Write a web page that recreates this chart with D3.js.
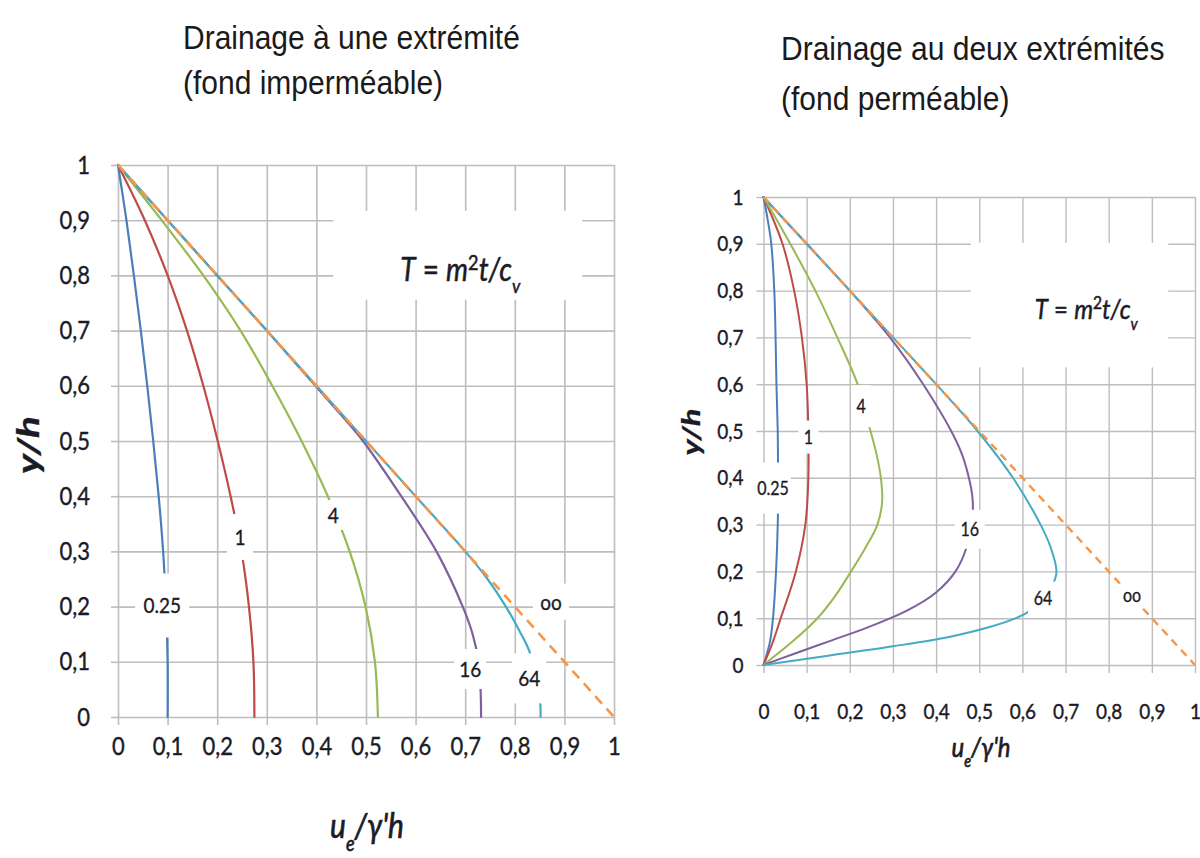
<!DOCTYPE html>
<html>
<head>
<meta charset="utf-8">
<script src="https://cdn.jsdelivr.net/npm/d3@7"></script>
<style>
  body { margin: 0; background: #fff; }
  svg { display: block; }
</style>
</head>
<body>
<svg id="chart" width="1200" height="858"></svg>
<script>
// ---------- data ----------
const ticks = [0, 0.1, 0.2, 0.3, 0.4, 0.5, 0.6, 0.7, 0.8, 0.9, 1];
const tickLabels = ["0", "0,1", "0,2", "0,3", "0,4", "0,5", "0,6", "0,7", "0,8", "0,9", "1"];
const timeFactors = ["0.25", "1", "4", "16", "64", "oo"];

// Drainage à une extrémité (fond imperméable): [u/γ'h, y/h]
const oneEnd_T025 = [[0,1],[0.017,0.9],[0.032,0.8],[0.046,0.7],[0.059,0.6],[0.071,0.5],[0.082,0.4],[0.091,0.3],[0.097,0.2],[0.1,0.1],[0.1,0]];
const oneEnd_T1   = [[0,1],[0.054,0.9],[0.1,0.8],[0.139,0.7],[0.172,0.6],[0.201,0.5],[0.227,0.4],[0.249,0.3],[0.264,0.2],[0.273,0.1],[0.275,0]];
const oneEnd_T4   = [[0,1],[0.088,0.9],[0.172,0.8],[0.247,0.7],[0.311,0.6],[0.37,0.5],[0.423,0.4],[0.467,0.3],[0.499,0.2],[0.518,0.1],[0.524,0]];
const oneEnd_T16  = [[0,1],[0.1,0.9],[0.2,0.8],[0.3,0.7],[0.398,0.6],[0.447,0.55],[0.494,0.5],[0.571,0.4],[0.642,0.3],[0.695,0.2],[0.715,0.15],[0.727,0.1],[0.731,0.05],[0.732,0]];
const oneEnd_T64  = [[0,1],[0.1,0.9],[0.2,0.8],[0.3,0.7],[0.4,0.6],[0.5,0.5],[0.6,0.4],[0.7,0.3],[0.745,0.25],[0.782,0.2],[0.81,0.155],[0.829,0.12],[0.845,0.07],[0.851,0.03],[0.852,0]];
const oneEnd_Tinf = [[0,1],[1,0]];
const oneEndLabelAt = [[0.089,0.202],[0.246,0.326],[0.434,0.366],[0.71,0.087],[0.829,0.07],[0.873,0.209]];

// Drainage aux deux extrémités (fond perméable): [u/γ'h, y/h]
const twoEnd_T025 = [[0,1],[0.01,0.95],[0.018,0.9],[0.025,0.8],[0.028,0.7],[0.03,0.6],[0.033,0.5],[0.034,0.4],[0.033,0.3],[0.029,0.2],[0.022,0.1],[0.015,0.05],[0,0]];
const twoEnd_T1   = [[0,1],[0.044,0.9],[0.071,0.8],[0.089,0.7],[0.1,0.6],[0.104,0.5],[0.104,0.4],[0.097,0.3],[0.075,0.2],[0.04,0.1],[0.022,0.05],[0,0]];
const twoEnd_T4   = [[0,1],[0.062,0.9],[0.12,0.8],[0.171,0.7],[0.218,0.6],[0.245,0.51],[0.262,0.45],[0.272,0.4],[0.275,0.35],[0.264,0.3],[0.236,0.25],[0.203,0.2],[0.168,0.15],[0.125,0.1],[0.067,0.05],[0,0]];
const twoEnd_T16  = [[0,1],[0.1,0.9],[0.2,0.8],[0.293,0.7],[0.37,0.6],[0.435,0.5],[0.46,0.45],[0.476,0.4],[0.484,0.36],[0.485,0.33],[0.478,0.29],[0.47,0.25],[0.445,0.2],[0.4,0.155],[0.33,0.115],[0.24,0.08],[0.15,0.05],[0.065,0.022],[0,0]];
const twoEnd_T64  = [[0,1],[0.1,0.9],[0.2,0.8],[0.3,0.7],[0.4,0.6],[0.496,0.5],[0.578,0.4],[0.642,0.3],[0.666,0.25],[0.679,0.2],[0.672,0.175],[0.65,0.14],[0.625,0.12],[0.585,0.1],[0.52,0.08],[0.43,0.06],[0.3,0.04],[0.15,0.02],[0,0]];
const twoEnd_Tinf = [[0,1],[1,0]];
const twoEndLabelAt = [[0.022,0.378],[0.104,0.487],[0.226,0.553],[0.478,0.29],[0.648,0.143],[0.854,0.148]];

// ---------- styles & layout ----------
const seriesColors = ["#4a7ebb", "#be4b48", "#98b954", "#7d60a0", "#46aac5", "#f79646"];
const TEXT_STRETCH = 1.15;
const INK = "#1b1b28";

const panels = [
  {
    series: [oneEnd_T025, oneEnd_T1, oneEnd_T4, oneEnd_T16, oneEnd_T64, oneEnd_Tinf],
    labelAt: oneEndLabelAt,
    labelBox: [[54,64],[26,46],[22,30],[32,40],[34,50],[36,36]],
    labelFont: 19,
    xRange: [118, 614], yRange: [717, 165],
    grid: 1.6, lineW: 2.2, dashW: 2.6, dash: "10,7",
    tickFont: 22, yPad: 21, xPad: 12,
    formulaBox: [0.434, 0.936, 0.756, 0.917], formulaAt: [0.69, 0.81], formulaFont: 28,
    title: ["Drainage à une extrémité", "(fond imperméable)"], titleX: 183, titleY: [49, 94],
    yTitle: { x: 30, y: 445, size: 30, len: 58 },
    xTitle: { x: 367, y: 838, size: 30 }
  },
  {
    series: [twoEnd_T025, twoEnd_T1, twoEnd_T4, twoEnd_T16, twoEnd_T64, twoEnd_Tinf],
    labelAt: twoEndLabelAt,
    labelBox: [[36,51],[20,33],[20,42],[30,39],[30,33],[26,24]],
    labelFont: 16,
    xRange: [763.5, 1195], yRange: [665, 197],
    grid: 1.4, lineW: 2.0, dashW: 2.4, dash: "8,6",
    tickFont: 19, yPad: 13, xPad: 30,
    formulaBox: [0.481, 0.938, 0.636, 0.902], formulaAt: [0.748, 0.76], formulaFont: 24,
    title: ["Drainage au deux extrémités", "(fond perméable)"], titleX: 781, titleY: [60, 110],
    yTitle: { x: 693, y: 432, size: 24, len: 47 },
    xTitle: { x: 981, y: 757, size: 24 }
  }
];

const svg = d3.select("#chart");
svg.append("rect").attr("width", 1200).attr("height", 858).attr("fill", "#fff");

function stretchText(sel, k) {
  sel.each(function () {
    const t = d3.select(this);
    const x = +t.attr("x") || 0, y = +t.attr("y") || 0;
    t.attr("x", 0).attr("y", 0)
     .attr("transform", `translate(${x},${y}) scale(1,${k})`);
  });
}

// slightly heavier text, like the ClearType rendering of Calibri
function ink(sel, w) {
  return sel.attr("fill", INK).attr("stroke", INK).attr("stroke-width", w);
}

function drawPanel(p) {
  const x = d3.scaleLinear().domain([0, 1]).range(p.xRange);
  const y = d3.scaleLinear().domain([0, 1]).range(p.yRange);
  const w = p.xRange[1] - p.xRange[0];
  const h = p.yRange[0] - p.yRange[1];
  const g = svg.append("g");
  const gridColor = "#bdbdbd";

  // gridlines
  g.append("g").attr("transform", `translate(${p.xRange[0]},0)`)
    .call(d3.axisLeft(y).tickValues(ticks).tickSize(-w).tickFormat(""))
    .call(s => s.select(".domain").remove())
    .call(s => s.selectAll("line").attr("stroke", gridColor).attr("stroke-width", p.grid));
  g.append("g").attr("transform", `translate(0,${p.yRange[0]})`)
    .call(d3.axisBottom(x).tickValues(ticks).tickSize(h).tickFormat(""))
    .call(s => s.select(".domain").remove())
    .call(s => s.selectAll("line").attr("y1", 0).attr("y2", -h)
      .attr("stroke", gridColor).attr("stroke-width", p.grid));

  // axes with tick labels
  const yAxis = g.append("g").attr("transform", `translate(${p.xRange[0]},0)`)
    .call(d3.axisLeft(y).tickValues(ticks).tickSize(7).tickPadding(p.yPad)
      .tickFormat((d, i) => tickLabels[i]))
    .call(s => s.select(".domain").remove());
  const xAxis = g.append("g").attr("transform", `translate(0,${p.yRange[0]})`)
    .call(d3.axisBottom(x).tickValues(ticks).tickSize(8).tickPadding(p.xPad)
      .tickFormat((d, i) => tickLabels[i]))
    .call(s => s.select(".domain").remove());
  [yAxis, xAxis].forEach(a => {
    a.selectAll("line").attr("stroke", gridColor).attr("stroke-width", p.grid);
    const t = a.selectAll("text")
      .style("font-family", "Lato, 'Open Sans', sans-serif")
      .style("font-size", p.tickFont + "px");
    ink(t, 0.35);
    stretchText(t, TEXT_STRETCH);
  });

  // formula panel background
  const fb = p.formulaBox;
  g.append("rect")
    .attr("x", x(fb[0])).attr("y", y(fb[3]))
    .attr("width", x(fb[1]) - x(fb[0])).attr("height", y(fb[2]) - y(fb[3]))
    .attr("fill", "#fff");

  // isochrones
  const smooth = d3.line().x(d => x(d[0])).y(d => y(d[1])).curve(d3.curveCatmullRom.alpha(0.5));
  const straight = d3.line().x(d => x(d[0])).y(d => y(d[1]));
  p.series.forEach((pts, i) => {
    const dashed = i === p.series.length - 1;
    g.append("path").datum(pts)
      .attr("d", dashed ? straight : smooth)
      .attr("fill", "none")
      .attr("stroke", seriesColors[i])
      .attr("stroke-width", dashed ? p.dashW : p.lineW)
      .attr("stroke-dasharray", dashed ? p.dash : null)
      .attr("stroke-linecap", dashed ? "butt" : "round")
      .attr("stroke-linejoin", "round");
  });

  // curve labels on white boxes
  p.labelAt.forEach((pos, i) => {
    const cx = x(pos[0]), cy = y(pos[1]);
    const [bw, bh] = p.labelBox[i];
    g.append("rect").attr("x", cx - bw / 2).attr("y", cy - bh / 2)
      .attr("width", bw).attr("height", bh).attr("fill", "#fff");
    const t = g.append("text")
      .attr("transform", `translate(${cx},${cy}) scale(1,${TEXT_STRETCH})`)
      .attr("text-anchor", "middle").attr("dy", "0.36em")
      .style("font-family", "Lato, sans-serif")
      .style("font-size", p.labelFont + "px")
      .text(timeFactors[i]);
    ink(t, 0.3);
  });

  // formula T = m²t/c_v
  const ft = g.append("text")
    .attr("transform", `translate(${x(p.formulaAt[0])},${y(p.formulaAt[1])}) scale(1,${TEXT_STRETCH})`)
    .attr("text-anchor", "middle").attr("dy", "0.36em")
    .style("font-family", "Lato, sans-serif")
    .style("font-size", p.formulaFont + "px");
  ink(ft, 0.45);
  ft.append("tspan").style("font-style", "italic").text("T");
  ft.append("tspan").text(" = ");
  ft.append("tspan").style("font-style", "italic").text("m");
  ft.append("tspan").attr("baseline-shift", "super").style("font-size", "0.65em").text("2");
  ft.append("tspan").style("font-style", "italic").text("t/c");
  ft.append("tspan").attr("baseline-shift", "sub").style("font-size", "0.62em")
    .style("font-style", "italic").text("v");

  // panel title
  p.title.forEach((t, i) => {
    svg.append("text")
      .attr("transform", `translate(${p.titleX},${p.titleY[i]}) scale(1,1.08)`)
      .style("font-family", "'Liberation Sans', Arial, sans-serif")
      .style("font-size", "30px")
      .attr("fill", "#1a1a1a")
      .text(t);
  });

  // axis titles
  const yt = svg.append("text")
    .attr("transform", `translate(${p.yTitle.x},${p.yTitle.y}) rotate(-90)`)
    .attr("text-anchor", "middle").attr("dy", "0.3em")
    .attr("textLength", p.yTitle.len).attr("lengthAdjust", "spacingAndGlyphs")
    .style("font-family", "Lato, sans-serif")
    .style("font-size", p.yTitle.size + "px")
    .style("font-weight", "bold").style("font-style", "italic")
    .text("y/h");
  ink(yt, 0.3);

  const xt = svg.append("text")
    .attr("transform", `translate(${p.xTitle.x},${p.xTitle.y}) scale(1,${TEXT_STRETCH})`)
    .attr("text-anchor", "middle")
    .style("font-family", "Lato, sans-serif")
    .style("font-size", p.xTitle.size + "px")
    .style("font-style", "italic");
  ink(xt, 0.6);
  xt.append("tspan").text("u");
  xt.append("tspan").attr("baseline-shift", "sub").style("font-size", "0.6em").text("e");
  xt.append("tspan").text("/γ'h");
}

panels.forEach(drawPanel);
</script>
</body>
</html>
